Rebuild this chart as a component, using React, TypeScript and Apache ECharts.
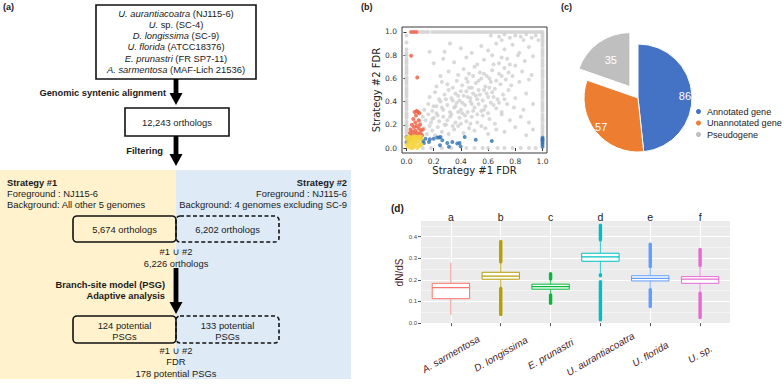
import React, { useEffect, useRef } from 'react';
import * as echarts from 'echarts';

// ---------- Panel (a) : workflow texts ----------
const genomeItalic = ['U. aurantiacoatra', 'U.', 'D. longissima', 'U. florida', 'E. prunastri', 'A. sarmentosa'];
const genomeRest = [' (NJ115-6)', ' sp. (SC-4)', ' (SC-9)', ' (ATCC18376)', ' (FR SP7-11)', ' (MAF-Lich 21536)'];
const stepLabels = ['Genomic syntenic alignment', 'Filtering', 'Branch-site model (PSG)', 'Adaptive analysis'];
const strategy1Lines = ['Strategy #1', 'Foreground : NJ115-6', 'Background: All other 5 genomes'];
const strategy2Lines = ['Strategy #2', 'Foreground : NJ115-6', 'Background: 4 genomes excluding SC-9'];
const orthologTotal = '12,243 orthologs';
const orthologSets = ['5,674 orthologs', '6,202 orthologs'];
const unionOrthologs = ['#1 \u222A #2', '6,226 orthologs'];
const psgSets = [['124 potential', 'PSGs'], ['133 potential', 'PSGs']];
const psgUnion = ['#1 \u222A #2', 'FDR', '178 potential PSGs'];

// ---------- Panel (b) : FDR scatter ----------
const fdrTicks = [0, 0.2, 0.4, 0.6, 0.8, 1.0];
const grayTopRowX = [0.1, 0.12, 0.14, 0.16, 0.19, 0.21, 0.23, 0.25, 0.27, 0.29, 0.31, 0.33, 0.35, 0.37, 0.39, 0.41, 0.43, 0.45, 0.47, 0.49, 0.51, 0.53, 0.55, 0.57, 0.59, 0.61, 0.63, 0.65, 0.67, 0.69, 0.71, 0.73, 0.75, 0.77, 0.79, 0.81, 0.83, 0.85, 0.87, 0.89, 0.91, 0.93, 0.95, 0.97, 0.99, 1.0];
const grayLeftColY = [0.13, 0.15, 0.17, 0.19, 0.21, 0.23, 0.26, 0.28, 0.3, 0.33, 0.35, 0.37, 0.39, 0.41, 0.44, 0.46, 0.48, 0.5, 0.52, 0.55, 0.57, 0.59, 0.61, 0.64, 0.66, 0.68, 0.7, 0.73, 0.75, 0.77, 0.8, 0.82, 0.85, 0.91, 0.97];
const grayRightColY = [0.12, 0.14, 0.16, 0.18, 0.2, 0.23, 0.25, 0.27, 0.29, 0.32, 0.34, 0.36, 0.38, 0.4, 0.43, 0.45, 0.47, 0.49, 0.52, 0.54, 0.56, 0.58, 0.61, 0.63, 0.65, 0.67, 0.7, 0.72, 0.74, 0.76, 0.79, 0.81, 0.83, 0.85, 0.88, 0.9, 0.92, 0.94, 0.96, 0.98];
const grayBottomRowX = [0.12, 0.18, 0.26, 0.33, 0.44, 0.5, 0.56, 0.6, 0.67, 0.72, 0.78, 0.84, 0.9, 0.95];
const grayCloud: number[][] = [
  [0.62, 0.97], [0.68, 0.96], [0.72, 0.98], [0.76, 0.95], [0.8, 0.97], [0.84, 0.96], [0.88, 0.98], [0.92, 0.95], [0.95, 0.97], [0.7, 0.93], [0.86, 0.93], [0.97, 0.93],
  [0.11, 0.13], [0.13, 0.17], [0.15, 0.12], [0.17, 0.19], [0.19, 0.15], [0.21, 0.11], [0.23, 0.18], [0.26, 0.14], [0.29, 0.2], [0.31, 0.12], [0.35, 0.16], [0.38, 0.19], [0.42, 0.13], [0.46, 0.17], [0.5, 0.15], [0.55, 0.19], [0.6, 0.12], [0.66, 0.16], [0.72, 0.14], [0.8, 0.18], [0.88, 0.11], [0.93, 0.16],
  [0.1, 0.22], [0.12, 0.27], [0.14, 0.24], [0.16, 0.29], [0.18, 0.22], [0.2, 0.26], [0.22, 0.3], [0.24, 0.23], [0.27, 0.27], [0.3, 0.24], [0.33, 0.29], [0.36, 0.22], [0.39, 0.26], [0.41, 0.3], [0.44, 0.23], [0.48, 0.27], [0.52, 0.22], [0.56, 0.28], [0.61, 0.25], [0.65, 0.21], [0.7, 0.29], [0.76, 0.24], [0.84, 0.27], [0.9, 0.22],
  [0.13, 0.33], [0.16, 0.38], [0.19, 0.32], [0.22, 0.36], [0.25, 0.4], [0.27, 0.33], [0.3, 0.37], [0.32, 0.31], [0.35, 0.35], [0.37, 0.39], [0.4, 0.33], [0.43, 0.37], [0.45, 0.31], [0.47, 0.4], [0.5, 0.35], [0.53, 0.38], [0.55, 0.32], [0.58, 0.36], [0.62, 0.39], [0.66, 0.34], [0.7, 0.31], [0.74, 0.38], [0.79, 0.35], [0.86, 0.33], [0.93, 0.38],
  [0.17, 0.44], [0.21, 0.48], [0.24, 0.42], [0.28, 0.46], [0.31, 0.5], [0.33, 0.43], [0.36, 0.47], [0.39, 0.41], [0.42, 0.45], [0.44, 0.49], [0.47, 0.43], [0.49, 0.47], [0.52, 0.42], [0.54, 0.46], [0.57, 0.5], [0.6, 0.44], [0.63, 0.48], [0.67, 0.42], [0.71, 0.46], [0.75, 0.5], [0.8, 0.43], [0.88, 0.47],
  [0.22, 0.53], [0.26, 0.57], [0.3, 0.55], [0.34, 0.52], [0.37, 0.58], [0.41, 0.54], [0.45, 0.57], [0.48, 0.52], [0.51, 0.56], [0.55, 0.6], [0.58, 0.53], [0.62, 0.57], [0.65, 0.51], [0.69, 0.55], [0.73, 0.59], [0.77, 0.54], [0.83, 0.57], [0.9, 0.59],
  [0.25, 0.62], [0.31, 0.66], [0.38, 0.63], [0.42, 0.68], [0.46, 0.64], [0.5, 0.7], [0.54, 0.65], [0.59, 0.62], [0.63, 0.67], [0.68, 0.64], [0.72, 0.69], [0.78, 0.62], [0.85, 0.66], [0.92, 0.63],
  [0.2, 0.73], [0.27, 0.77], [0.35, 0.74], [0.44, 0.78], [0.52, 0.72], [0.57, 0.76], [0.63, 0.8], [0.68, 0.73], [0.74, 0.77], [0.8, 0.71], [0.87, 0.75], [0.93, 0.79],
  [0.17, 0.83], [0.28, 0.83], [0.32, 0.9], [0.4, 0.86], [0.48, 0.82], [0.55, 0.88], [0.6, 0.84], [0.66, 0.9], [0.72, 0.85], [0.78, 0.89], [0.83, 0.82], [0.9, 0.87],
  [0.34, 0.41], [0.38, 0.45], [0.41, 0.39], [0.45, 0.44], [0.48, 0.38], [0.51, 0.45], [0.53, 0.5], [0.56, 0.41], [0.59, 0.47], [0.61, 0.52], [0.64, 0.44], [0.46, 0.52], [0.4, 0.49], [0.36, 0.36],
  [0.29, 0.42], [0.26, 0.35], [0.32, 0.27], [0.38, 0.31], [0.43, 0.28], [0.49, 0.32], [0.52, 0.29], [0.57, 0.33], [0.6, 0.3], [0.64, 0.37], [0.68, 0.39], [0.72, 0.42],
  [0.44, 0.6], [0.49, 0.62], [0.53, 0.58], [0.57, 0.64], [0.61, 0.6], [0.66, 0.58], [0.7, 0.62], [0.75, 0.65], [0.64, 0.72], [0.7, 0.78], [0.76, 0.72], [0.82, 0.8],
  [0.2, 0.36], [0.23, 0.28], [0.19, 0.25], [0.28, 0.2], [0.34, 0.19], [0.4, 0.21], [0.47, 0.21], [0.58, 0.17],
];
const redPoints: number[][] = [
  [0.034, 1.0], [0.054, 1.0], [0.074, 1.0], [0.034, 0.795], [0.079, 0.607],
  [0.06, 0.31], [0.075, 0.32], [0.085, 0.31], [0.095, 0.3], [0.07, 0.28], [0.05, 0.25], [0.065, 0.22], [0.09, 0.24], [0.1, 0.2], [0.04, 0.2],
  [0.055, 0.18], [0.075, 0.19], [0.09, 0.17], [0.105, 0.15], [0.03, 0.16], [0.045, 0.14], [0.065, 0.15], [0.08, 0.13], [0.1, 0.12], [0.025, 0.13],
  [0.115, 0.11], [0.06, 0.12], [0.085, 0.1], [0.12, 0.16], [0.035, 0.11],
];
const bluePoints: number[][] = [
  [0.0, 0.095], [0.0, 0.05], [0.01, 0.07], [0.103, 0.09], [0.128, 0.043], [0.14, 0.08], [0.165, 0.052], [0.172, 0.075], [0.2, 0.08], [0.226, 0.09],
  [0.24, 0.09], [0.246, 0.023], [0.263, 0.066], [0.3, 0.043], [0.312, 0.01], [0.337, 0.052], [0.373, 0.038], [0.39, 0.043], [0.398, 0.014], [0.428, 0.095],
  [0.509, 0.072], [0.627, 0.061], [1.0, 0.01], [1.0, 0.03], [1.0, 0.045], [1.0, 0.06], [1.0, 0.07], [1.0, 0.08], [1.0, 0.09], [0.12, 0.06], [0.25, 0.095],
];
const yellowPoints: number[][] = [
  [0.01, 0.01], [0.02, 0.03], [0.03, 0.0], [0.015, 0.05], [0.04, 0.02], [0.05, 0.04], [0.06, 0.01], [0.025, 0.07], [0.035, 0.05], [0.045, 0.08],
  [0.055, 0.06], [0.065, 0.03], [0.075, 0.05], [0.08, 0.08], [0.09, 0.02], [0.1, 0.05], [0.07, 0.09], [0.03, 0.09], [0.02, 0.1], [0.05, 0.1],
  [0.085, 0.06], [0.095, 0.09], [0.11, 0.08], [0.0, 0.03], [0.005, 0.07], [0.04, 0.065], [0.06, 0.075], [0.1, 0.02], [0.08, 0.0], [0.045, 0.0],
  [0.015, 0.085], [0.065, 0.1], [0.09, 0.1], [0.105, 0.1], [0.0, 0.09], [0.11, 0.03],
];

// ---------- Panel (c) : PSG categories ----------
const pieNames = ['Annotated gene', 'Unannotated gene', 'Pseudogene'];
const pieValues = [86, 57, 35];
const pieColors = ['#4472C4', '#ED7D31', '#BFBFBF'];

// ---------- Panel (d) : dN/dS boxplots ----------
const speciesLabels = ['A. sarmentosa', 'D. longissima', 'E. prunastri', 'U. aurantiacoatra', 'U. florida', 'U. sp.'];
const sigLetters = ['a', 'b', 'c', 'd', 'e', 'f'];
const speciesPos = [1, 2, 3, 4, 5, 6];
const dndsTicks = [0, 0.1, 0.2, 0.3, 0.4];
const boxColors = ['#F8766D', '#B79F00', '#00BA38', '#00BFC4', '#619CFF', '#E56BD3'];
// [position, lower whisker, Q1, median, Q3, upper whisker]
const boxStats: number[][] = [
  [1, 0.038, 0.113, 0.164, 0.184, 0.279],
  [2, 0.165, 0.203, 0.217, 0.235, 0.275],
  [3, 0.136, 0.157, 0.169, 0.18, 0.2],
  [4, 0.232, 0.286, 0.306, 0.323, 0.378],
  [5, 0.16, 0.195, 0.207, 0.219, 0.258],
  [6, 0.142, 0.184, 0.203, 0.215, 0.262],
];
// [position, low, high] dense outlier runs
const outlierRuns: number[][] = [
  [2, 0.282, 0.378], [2, 0.04, 0.16],
  [3, 0.204, 0.228], [3, 0.092, 0.13],
  [4, 0.384, 0.453], [4, 0.219, 0.224], [4, 0.015, 0.192],
  [5, 0.262, 0.338], [5, 0.345, 0.365], [5, 0.077, 0.155],
  [6, 0.266, 0.341], [6, 0.026, 0.138],
];

const SANS = '"Liberation Sans", Arial, "DejaVu Sans", sans-serif';
const DV = '"DejaVu Sans", sans-serif';
const INK = '#1a1a1a';
const FS = 9.4;
const FSB = 9.3;

function txt(x: number, y: number, text: string, o: any = {}) {
  return {
    type: 'text', x, y, z: 10,
    style: {
      text, fill: o.fill ?? INK, fontSize: o.size ?? FS, fontFamily: o.family ?? SANS,
      fontWeight: o.bold ? 'bold' : 'normal', align: o.align ?? 'center', verticalAlign: 'middle',
      rich: o.rich,
    },
  };
}
function arrow(x: number, y0: number, tip: number) {
  const headH = 12, headW = 6.5, shaftW = 2.4;
  return [
    { type: 'rect', z: 9, shape: { x: x - shaftW, y: y0, width: shaftW * 2, height: tip - headH - y0 + 1 }, style: { fill: '#000' } },
    { type: 'polygon', z: 9, shape: { points: [[x - headW, tip - headH], [x + headW, tip - headH], [x, tip]] }, style: { fill: '#000' } },
  ];
}
function box(x: number, y: number, w: number, h: number, r: number, dashed = false) {
  return {
    type: 'rect', z: 8, shape: { x, y, width: w, height: h, r },
    style: { fill: 'rgba(0,0,0,0)', stroke: '#111', lineWidth: 1.6, lineDash: dashed ? [4, 2.5] : null },
  };
}

function buildGraphic() {
  const g: any[] = [];
  g.push({ type: 'rect', z: 1, shape: { x: 0, y: 170, width: 176, height: 209 }, style: { fill: '#FFF2CC' } });
  g.push({ type: 'rect', z: 1, shape: { x: 176, y: 170, width: 175, height: 209 }, style: { fill: '#DEEBF7' } });
  g.push(txt(3, 7, '(a)', { bold: true, size: 9, align: 'left' }));
  g.push(txt(361, 7, '(b)', { bold: true, size: 9, align: 'left' }));
  g.push(txt(561, 7, '(c)', { bold: true, size: 9, align: 'left' }));
  g.push(txt(391, 208, '(d)', { bold: true, size: 10, align: 'left' }));
  // genomes box
  g.push(box(96, 5, 160, 74, 0));
  const rich = { i: { fontStyle: 'italic', fontSize: FS, fontFamily: SANS, fill: INK } };
  genomeItalic.forEach((s, i) => {
    g.push(txt(176, 13.3 + i * 11.2, `{i|${s}}${genomeRest[i]}`, { rich }));
  });
  g.push(...arrow(176, 79, 105));
  g.push(txt(166, 93, stepLabels[0], { bold: true, align: 'right', size: FSB }));
  g.push(box(125, 108, 104, 28, 0));
  g.push(txt(177, 122.5, orthologTotal));
  g.push(...arrow(176, 136, 166));
  g.push(txt(163, 151, stepLabels[1], { bold: true, align: 'right', size: FSB }));
  strategy1Lines.forEach((t, i) => g.push(txt(7, 183 + i * 10.5, t, { bold: i === 0, align: 'left', size: i === 0 ? FSB : FS })));
  strategy2Lines.forEach((t, i) => g.push(txt(347, 183 + i * 10.5, t, { bold: i === 0, align: 'right', size: i === 0 ? FSB : FS })));
  g.push(box(73, 216, 103, 26, 4));
  g.push(box(176, 216, 103, 26, 4, true));
  g.push(txt(124.5, 229, orthologSets[0]));
  g.push(txt(227.5, 229, orthologSets[1]));
  g.push(txt(176, 251, unionOrthologs[0]));
  g.push(txt(176, 263, unionOrthologs[1]));
  g.push(...arrow(176, 268, 314));
  g.push(txt(165, 285, stepLabels[2], { bold: true, align: 'right', size: FSB }));
  g.push(txt(165, 296, stepLabels[3], { bold: true, align: 'right', size: FSB }));
  g.push(box(73, 316, 103, 27, 4));
  g.push(box(176, 316, 103, 27, 4, true));
  g.push(txt(124.5, 325, psgSets[0][0]));
  g.push(txt(124.5, 336, psgSets[0][1]));
  g.push(txt(227.5, 325, psgSets[1][0]));
  g.push(txt(227.5, 336, psgSets[1][1]));
  psgUnion.forEach((t, i) => g.push(txt(176, 350 + i * 11.7, t)));
  return g;
}

function boxRender(params: any, api: any) {
  const x = api.value(0);
  const lo = api.value(1), q1 = api.value(2), med = api.value(3), q3 = api.value(4), hi = api.value(5);
  const half = 0.375;
  const tl = api.coord([x - half, q3]);
  const br = api.coord([x + half, q1]);
  const mL = api.coord([x - half, med]);
  const mR = api.coord([x + half, med]);
  const pHi = api.coord([x, hi]);
  const pQ3 = api.coord([x, q3]);
  const pQ1 = api.coord([x, q1]);
  const pLo = api.coord([x, lo]);
  const c = boxColors[params.dataIndex];
  return {
    type: 'group',
    children: [
      { type: 'line', shape: { x1: pHi[0], y1: pHi[1], x2: pQ3[0], y2: pQ3[1] }, style: { stroke: c, lineWidth: 1, opacity: 0.8 } },
      { type: 'line', shape: { x1: pQ1[0], y1: pQ1[1], x2: pLo[0], y2: pLo[1] }, style: { stroke: c, lineWidth: 1, opacity: 0.8 } },
      { type: 'rect', shape: { x: tl[0], y: tl[1], width: br[0] - tl[0], height: br[1] - tl[1] }, style: { fill: '#fff', stroke: c, lineWidth: 1 } },
      { type: 'line', shape: { x1: mL[0], y1: mL[1], x2: mR[0], y2: mR[1] }, style: { stroke: c, lineWidth: 1.2 } },
    ],
  };
}
function outlierRender(params: any, api: any) {
  const x = api.value(0);
  const a = api.coord([x, api.value(1)]);
  const b = api.coord([x, api.value(2)]);
  const c = boxColors[Math.round(x) - 1];
  return {
    type: 'line',
    shape: { x1: a[0], y1: a[1], x2: b[0], y2: b[1] },
    style: { stroke: c, lineWidth: 3.4, lineCap: 'round' },
  };
}

function buildOption(): any {
  const grayData = [
    ...grayTopRowX.map((x) => [x, 1.0]),
    ...grayLeftColY.map((y) => [0.0, y]),
    ...grayRightColY.map((y) => [1.0, y]),
    ...grayBottomRowX.map((x) => [x, 0.0]),
    ...grayCloud,
  ];
  const fdrAxisCommon = {
    type: 'value',
    nameLocation: 'middle',
    nameTextStyle: { fontFamily: DV, fontSize: 10, color: '#222' },
    axisLine: { show: false },
    axisTick: { show: true, length: 3, lineStyle: { color: '#333' }, customValues: fdrTicks },
    axisLabel: { customValues: fdrTicks, formatter: (v: number) => v.toFixed(1), fontSize: 7.5, fontFamily: DV, color: '#333' },
    splitLine: { show: false },
  };
  return {
    animation: false,
    backgroundColor: '#fff',
    graphic: buildGraphic(),
    grid: [
      { left: 402, top: 27, width: 145, height: 126, show: true, borderColor: '#3a3a3a', borderWidth: 1, backgroundColor: 'transparent' },
      { left: 421, top: 221, width: 309, height: 103, show: true, backgroundColor: '#EBEBEB', borderWidth: 0 },
    ],
    xAxis: [
      { ...fdrAxisCommon, gridIndex: 0, min: -0.033, max: 1.033, name: 'Strategy #1 FDR', nameGap: 11,
        axisLabel: { ...fdrAxisCommon.axisLabel, margin: 4 } },
      { type: 'value', gridIndex: 1, min: 0.4, max: 6.6,
        axisLine: { show: false },
        axisTick: { show: true, length: 3, lineStyle: { color: '#555' }, customValues: speciesPos },
        axisLabel: { customValues: speciesPos, formatter: (v: number) => speciesLabels[Math.round(v) - 1] ?? '',
          rotate: 30, align: 'center', verticalAlign: 'middle', margin: 30, fontSize: 10, fontStyle: 'italic',
          fontFamily: SANS, color: '#4a1c1c' },
        splitLine: { show: true, lineStyle: { color: '#fff', width: 1 } } },
      { type: 'value', gridIndex: 1, position: 'top', min: 0.4, max: 6.6,
        axisLine: { show: false }, axisTick: { show: false },
        axisLabel: { customValues: speciesPos, formatter: (v: number) => sigLetters[Math.round(v) - 1] ?? '',
          margin: -1, fontSize: 10.5, fontFamily: SANS, color: '#222' },
        splitLine: { show: false } },
    ],
    yAxis: [
      { ...fdrAxisCommon, gridIndex: 0, min: -0.043, max: 1.043, name: 'Strategy #2 FDR', nameGap: 18,
        axisLabel: { ...fdrAxisCommon.axisLabel, margin: 5 } },
      { type: 'value', gridIndex: 1, min: -0.004, max: 0.472, name: 'dN/dS', nameLocation: 'middle', nameGap: 11,
        nameTextStyle: { fontSize: 10, color: '#4a1c1c', fontFamily: SANS },
        axisLine: { show: false },
        axisTick: { show: true, length: 3, lineStyle: { color: '#555' }, customValues: dndsTicks },
        axisLabel: { customValues: dndsTicks, formatter: (v: number) => v.toFixed(1), fontSize: 6, color: '#4d4d4d', margin: 4, fontFamily: SANS },
        splitLine: { show: true, lineStyle: { color: '#fff', width: 1 } },
        minorTick: { show: false, splitNumber: 2 },
        minorSplitLine: { show: true, lineStyle: { color: '#fff', width: 0.5 } } },
    ],
    legend: {
      data: pieNames, orient: 'vertical', left: 694, top: 107, padding: 0, itemWidth: 7, itemHeight: 7, itemGap: 2.5,
      icon: 'circle', selectedMode: false,
      textStyle: { fontSize: 9.1, color: '#222', fontFamily: SANS },
    },
    series: [
      { type: 'scatter', name: 'other', xAxisIndex: 0, yAxisIndex: 0, symbolSize: 4, itemStyle: { color: '#d0d0d0' }, data: grayData, silent: true },
      { type: 'scatter', name: 'strategy1', xAxisIndex: 0, yAxisIndex: 0, symbolSize: 4, itemStyle: { color: '#3572b0' }, data: bluePoints, silent: true },
      { type: 'scatter', name: 'strategy2', xAxisIndex: 0, yAxisIndex: 0, symbolSize: 4, itemStyle: { color: '#ee5a3c' }, data: redPoints, silent: true },
      { type: 'scatter', name: 'both', xAxisIndex: 0, yAxisIndex: 0, symbolSize: 4, itemStyle: { color: '#f6d33c' }, data: yellowPoints, silent: true },
      {
        type: 'pie', center: [638, 98], radius: [0, 54], startAngle: 90, clockwise: true,
        selectedMode: 'single', selectedOffset: 14, silent: true, z: 2,
        label: { show: false }, labelLine: { show: false },
        itemStyle: { borderColor: '#fff', borderWidth: 1 },
        data: pieNames.map((n, i) => ({ name: n, value: pieValues[i], selected: i === 2, itemStyle: { color: pieColors[i] } })),
      },
      {
        type: 'pie', center: [638, 98], radius: [34, 54], startAngle: 90, clockwise: true, silent: true, z: 5,
        itemStyle: { color: 'rgba(0,0,0,0)' },
        label: { show: true, position: 'inside', formatter: '{c}', color: '#fff', fontSize: 11, fontFamily: SANS },
        labelLine: { show: false },
        data: pieNames.map((n, i) => ({ name: n, value: pieValues[i] })),
      },
      { type: 'custom', xAxisIndex: 1, yAxisIndex: 1, data: outlierRuns, encode: { x: 0, y: [1, 2] }, renderItem: outlierRender, silent: true, z: 2 },
      { type: 'custom', xAxisIndex: 1, yAxisIndex: 1, data: boxStats, encode: { x: 0, y: [1, 2, 3, 4, 5] }, renderItem: boxRender, silent: true, z: 3 },
    ],
  };
}

export default function App() {
  const ref = useRef<HTMLDivElement>(null);
  useEffect(() => {
    if (!ref.current) return;
    const chart = echarts.init(ref.current, undefined, { renderer: 'svg' });
    chart.setOption(buildOption());
    return () => chart.dispose();
  }, []);
  return <div ref={ref} style={{ position: 'fixed', left: 0, top: 0, width: 784, height: 388, background: '#fff' }} />;
}
